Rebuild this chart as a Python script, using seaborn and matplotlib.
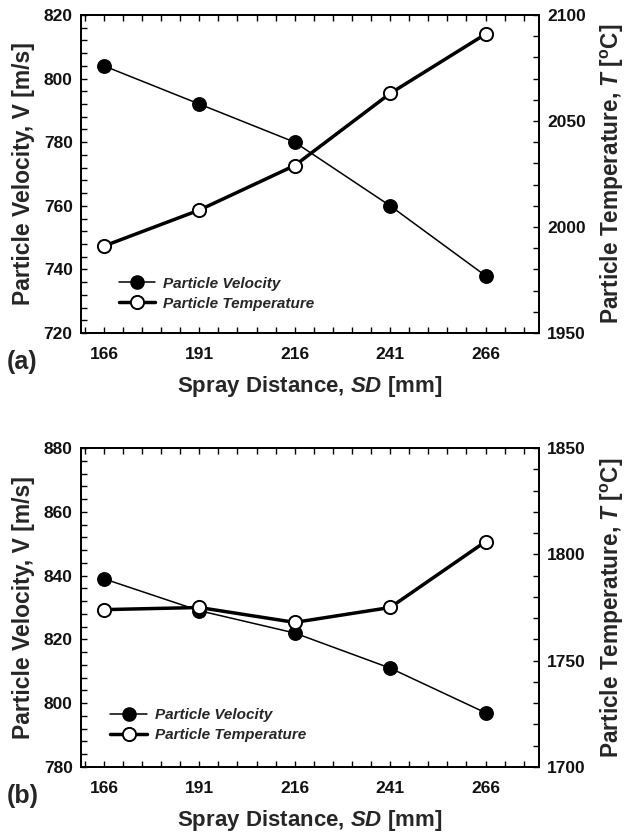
import matplotlib
matplotlib.use("Agg")
import matplotlib.pyplot as plt
from matplotlib.ticker import FixedLocator, MultipleLocator
from matplotlib.lines import Line2D
import seaborn as sns
import pandas as pd

# Spray distance settings [mm]
spray_distance = [166, 191, 216, 241, 266]

# Panel (a)
velocity_a = [804, 792, 780, 760, 738]
temperature_a = [1991, 2008, 2029, 2063, 2091]

# Panel (b)
velocity_b = [839, 829, 822, 811, 797]
temperature_b = [1774, 1775, 1768, 1775, 1806]

sns.set_theme(style="ticks")
plt.rcParams["font.family"] = ["Liberation Sans", "DejaVu Sans"]
plt.rcParams["font.weight"] = "bold"
plt.rcParams["mathtext.fontset"] = "custom"
plt.rcParams["mathtext.it"] = "Liberation Sans:italic:bold"
plt.rcParams["mathtext.rm"] = "Liberation Sans:bold"
plt.rcParams["mathtext.bf"] = "Liberation Sans:bold"

fig = plt.figure(figsize=(6.28, 8.36), dpi=100)

panels = [
    dict(vel=velocity_a, temp=temperature_a, vlim=(720, 820), tlim=(1950, 2100),
         tag="(a)", rect=[81 / 628, 1 - 333 / 836, 458 / 628, 318 / 836],
         leg=(0.052, 0.027)),
    dict(vel=velocity_b, temp=temperature_b, vlim=(780, 880), tlim=(1700, 1850),
         tag="(b)", rect=[81 / 628, 1 - 767 / 836, 458 / 628, 319 / 836],
         leg=(0.034, 0.034)),
]

for p in panels:
    ax = fig.add_axes(p["rect"])
    ax2 = ax.twinx()

    df = pd.DataFrame({"SD": spray_distance, "V": p["vel"], "T": p["temp"]})

    sns.lineplot(data=df, x="SD", y="V", ax=ax, color="black", linewidth=1.1,
                 marker="o", markersize=9.5, markerfacecolor="black",
                 markeredgecolor="black", markeredgewidth=1.2)
    sns.lineplot(data=df, x="SD", y="T", ax=ax2, color="black", linewidth=2.5,
                 marker="o", markersize=9.5, markerfacecolor="white",
                 markeredgecolor="black", markeredgewidth=1.4)

    ax.set_xlim(160, 280)
    ax.set_ylim(*p["vlim"])
    ax2.set_ylim(*p["tlim"])

    ax.xaxis.set_major_locator(FixedLocator(spray_distance))
    ax.xaxis.set_minor_locator(FixedLocator(list(range(161, 281, 5))))
    ax.yaxis.set_major_locator(MultipleLocator(20))
    ax.yaxis.set_minor_locator(MultipleLocator(4))
    ax2.yaxis.set_major_locator(MultipleLocator(50))
    ax2.yaxis.set_minor_locator(MultipleLocator(10))

    ax.tick_params(axis="both", which="both", direction="in", length=4.5, width=1,
                   top=True, right=False, color="black")
    ax.tick_params(axis="x", which="major", pad=10)
    ax.tick_params(axis="y", which="major", pad=6)
    ax2.tick_params(axis="y", which="both", direction="in", length=4.5, width=1,
                    color="black", pad=6)

    for a in (ax, ax2):
        for s in a.spines.values():
            s.set_linewidth(1.3)
            s.set_color("black")
            s.set_visible(True)

    for lbl in ax.get_xticklabels() + ax.get_yticklabels() + ax2.get_yticklabels():
        lbl.set_fontsize(12.5)
        lbl.set_fontweight("bold")
        lbl.set_color("#111111")

    ax.set_xlabel("Spray Distance, $SD$ [mm]", labelpad=9, fontsize=16,
                  fontweight="bold")
    ax.set_ylabel("Particle Velocity, V [m/s]", labelpad=6, fontsize=16.5,
                  fontweight="bold")
    ax2.set_ylabel("Particle Temperature, $T$ [$^{\\mathbf{o}}$C]", labelpad=9.5,
                   fontsize=16.3, fontweight="bold")

    ax.text(-0.163, -0.092, p["tag"], transform=ax.transAxes, fontsize=18,
            fontweight="bold", ha="left", va="center")

    handles = [
        Line2D([], [], color="black", linewidth=1.1, marker="o", markersize=9.5,
               markerfacecolor="black", markeredgecolor="black"),
        Line2D([], [], color="black", linewidth=2.5, marker="o", markersize=9.5,
               markerfacecolor="white", markeredgecolor="black", markeredgewidth=1.4),
    ]
    ax2.legend(handles, ["Particle Velocity", "Particle Temperature"],
               loc="lower left", bbox_to_anchor=p["leg"], frameon=False,
               handlelength=2.4, handletextpad=0.5, labelspacing=0.4,
               prop=dict(family="Liberation Sans", style="italic", weight="bold",
                         size=11))

fig.savefig("out.png", dpi=100)
